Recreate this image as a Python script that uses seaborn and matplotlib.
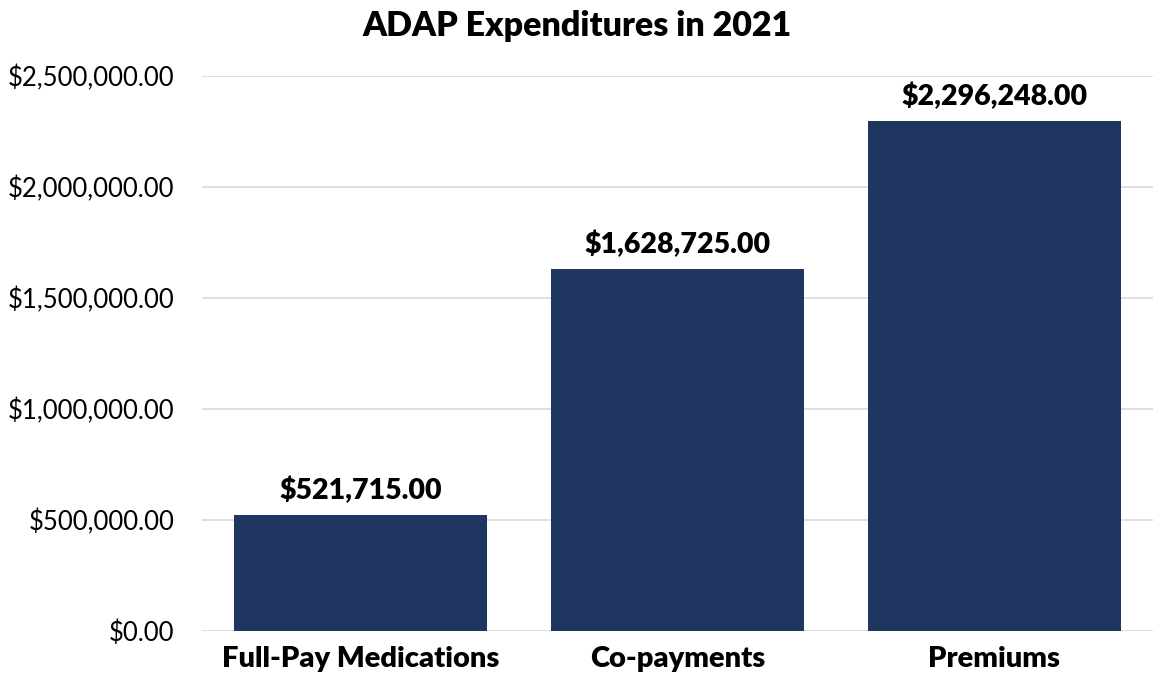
import pandas as pd
import seaborn as sns
import matplotlib.pyplot as plt
from matplotlib.ticker import FuncFormatter

# Expenditure categories and amounts
categories = ['Full-Pay Medications', 'Co-payments', 'Premiums']
amounts = [521715.00, 1628725.00, 2296248.00]
yticks = [0, 500000, 1000000, 1500000, 2000000, 2500000]

df = pd.DataFrame({'category': categories, 'amount': amounts})

sns.set_theme(style='white')
plt.rcParams['font.family'] = ['Lato', 'DejaVu Sans']
plt.rcParams['text.color'] = 'black'

fig = plt.figure(figsize=(11.54, 6.85), dpi=100)
ax = fig.add_axes([0.175, 0.079, 0.824, 0.81])

sns.barplot(data=df, x='category', y='amount', color='#1F3660',
            saturation=1, width=0.8, linewidth=0, ax=ax, zorder=3)

ax.set_ylim(0, 2500000)
ax.set_xlim(-0.5, 2.5)
ax.set_yticks(yticks)
ax.yaxis.set_major_formatter(FuncFormatter(lambda v, p: f'${v:,.2f}'))
ax.grid(axis='y', color='#D9D9D9', linewidth=1.2, zorder=0)
for s in ax.spines.values():
    s.set_visible(False)
ax.tick_params(axis='y', labelsize=18.5, pad=20, length=0, labelcolor='black')
ax.tick_params(axis='x', labelsize=21, pad=11, length=0, labelcolor='black')
for lbl in ax.get_xticklabels():
    lbl.set_fontweight('heavy')

# Value labels above the bars
for i, v in enumerate(amounts):
    ax.text(i, v + 50000, f'${v:,.2f}', ha='center', va='bottom',
            fontsize=20.5, fontweight='heavy', color='black')

ax.set_xlabel('')
ax.set_ylabel('')
fig.text(0.5, 0.962, 'ADAP Expenditures in 2021', ha='center', va='center',
         fontsize=24.5, fontweight='heavy', color='black')

plt.savefig('out.png', dpi=100)
